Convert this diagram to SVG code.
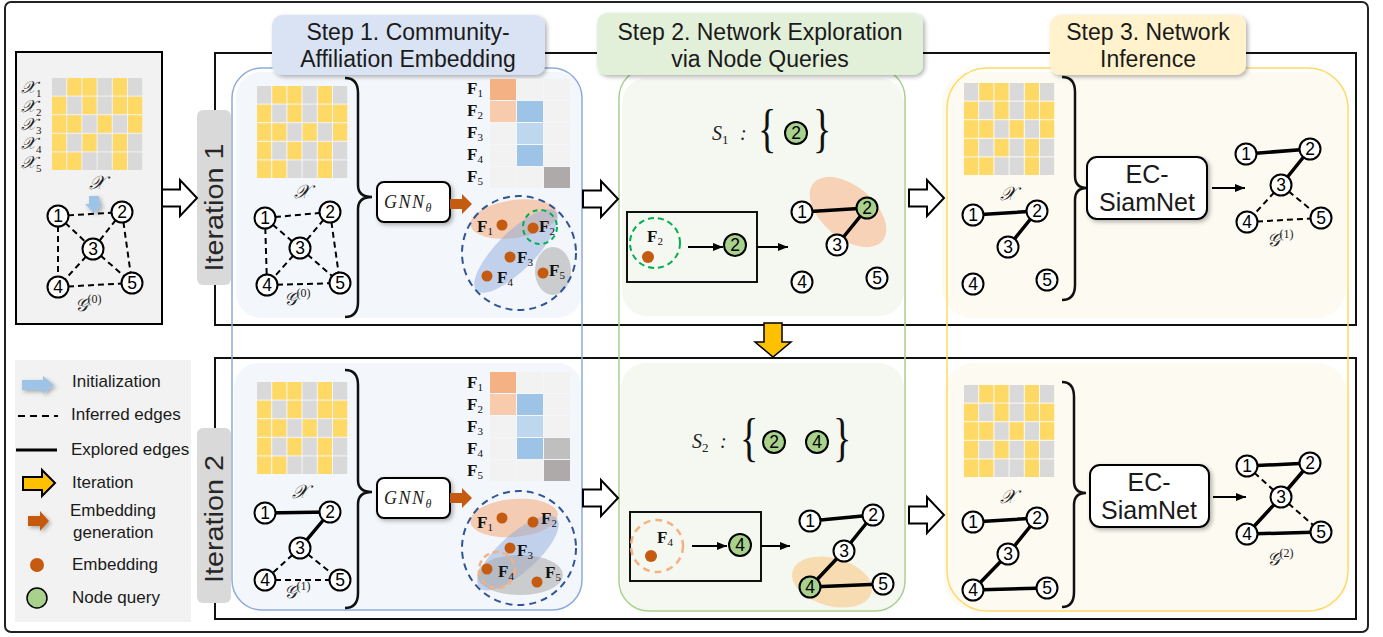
<svg xmlns="http://www.w3.org/2000/svg" xmlns:xlink="http://www.w3.org/1999/xlink" width="1383" height="637" viewBox="0 0 1383 637">
<style>
.n circle{fill:#fff;stroke:#000;stroke-width:2}
.q circle{fill:#a9d18e}
.n text{font-family:"Liberation Sans",Arial,sans-serif;font-size:17.5px;text-anchor:middle;fill:#000}
.s{stroke:#000;stroke-width:3.5;fill:none}
.d{stroke:#000;stroke-width:2;stroke-dasharray:6 4;fill:none}
.hd{font-family:"Liberation Sans",Arial,sans-serif;font-size:23px;text-anchor:middle;fill:#1a1a1a}
.ec{font-family:"Liberation Sans",Arial,sans-serif;font-size:25px;text-anchor:middle;fill:#1a1a1a}
.lg{font-family:"Liberation Sans",Arial,sans-serif;font-size:17px;fill:#1a1a1a}
.it{font-family:"Liberation Sans",Arial,sans-serif;font-size:25px;text-anchor:middle;fill:#262626}
.m{font-family:"Liberation Serif","DejaVu Serif",serif;font-style:italic;fill:#222}
.fb{font-family:"Liberation Serif","DejaVu Serif",serif;font-weight:bold;font-size:17px;fill:#111}
.sub{font-size:11px;font-weight:normal}
.bc{font-family:"Liberation Serif","DejaVu Serif",serif;font-size:53px;fill:#111}
.y{fill:#ffd966}.g{fill:#d9d9d9}
.c0{fill:#f2f2f2}
.ha{fill:#fff;stroke:#000;stroke-width:2;stroke-linejoin:miter}
.br{fill:none;stroke:#111;stroke-width:2.5}
.box{fill:#fff;stroke:#000;stroke-width:2}
.dot{fill:#c55a11}
.arr{stroke:#000;stroke-width:2;fill:none;marker-end:url(#ah)}
</style>
<defs>
<filter id="sh" x="-10%" y="-10%" width="130%" height="140%"><feDropShadow dx="2" dy="2" stdDeviation="2" flood-color="#000" flood-opacity="0.3"/></filter>
<marker id="ah" markerWidth="10" markerHeight="8" refX="10" refY="4" orient="auto" markerUnits="userSpaceOnUse"><path d="M0,0 L10,4 L0,8 z" fill="#000"/></marker>
<g id="mx">
<rect class="g" x="0" y="0" width="14.2" height="17.6"/><rect class="y" x="15.2" y="0" width="14.2" height="17.6"/><rect class="y" x="30.4" y="0" width="14.2" height="17.6"/><rect class="g" x="45.6" y="0" width="14.2" height="17.6"/><rect class="y" x="60.8" y="0" width="14.2" height="17.6"/><rect class="g" x="76" y="0" width="14.2" height="17.6"/>
<rect class="y" x="0" y="18.6" width="14.2" height="17.6"/><rect class="g" x="15.2" y="18.6" width="14.2" height="17.6"/><rect class="y" x="30.4" y="18.6" width="14.2" height="17.6"/><rect class="g" x="45.6" y="18.6" width="14.2" height="17.6"/><rect class="y" x="60.8" y="18.6" width="14.2" height="17.6"/><rect class="y" x="76" y="18.6" width="14.2" height="17.6"/>
<rect class="y" x="0" y="37.2" width="14.2" height="17.6"/><rect class="y" x="15.2" y="37.2" width="14.2" height="17.6"/><rect class="g" x="30.4" y="37.2" width="14.2" height="17.6"/><rect class="y" x="45.6" y="37.2" width="14.2" height="17.6"/><rect class="g" x="60.8" y="37.2" width="14.2" height="17.6"/><rect class="y" x="76" y="37.2" width="14.2" height="17.6"/>
<rect class="y" x="0" y="55.8" width="14.2" height="17.6"/><rect class="g" x="15.2" y="55.8" width="14.2" height="17.6"/><rect class="y" x="30.4" y="55.8" width="14.2" height="17.6"/><rect class="g" x="45.6" y="55.8" width="14.2" height="17.6"/><rect class="y" x="60.8" y="55.8" width="14.2" height="17.6"/><rect class="g" x="76" y="55.8" width="14.2" height="17.6"/>
<rect class="y" x="0" y="74.4" width="14.2" height="17.6"/><rect class="y" x="15.2" y="74.4" width="14.2" height="17.6"/><rect class="g" x="30.4" y="74.4" width="14.2" height="17.6"/><rect class="g" x="45.6" y="74.4" width="14.2" height="17.6"/><rect class="y" x="60.8" y="74.4" width="14.2" height="17.6"/><rect class="g" x="76" y="74.4" width="14.2" height="17.6"/>
</g>
</defs>

<rect x="0" y="0" width="1383" height="637" fill="#fff"/>
<rect id="outer-frame" x="5" y="2" width="1363" height="630" rx="6" fill="none" stroke="#222" stroke-width="2"/>

<!-- left initial panel -->
<g id="init-panel">
<rect x="16" y="52" width="146" height="272" fill="#f2f2f2" stroke="#000" stroke-width="2"/>
<use href="#mx" x="52" y="78"/>
<text class="m" font-size="17" x="21" y="93">𝒳<tspan font-size="11" dy="4" font-style="normal">1</tspan></text>
<text class="m" font-size="17" x="21" y="112">𝒳<tspan font-size="11" dy="4" font-style="normal">2</tspan></text>
<text class="m" font-size="17" x="21" y="130">𝒳<tspan font-size="11" dy="4" font-style="normal">3</tspan></text>
<text class="m" font-size="17" x="21" y="149">𝒳<tspan font-size="11" dy="4" font-style="normal">4</tspan></text>
<text class="m" font-size="17" x="21" y="168">𝒳<tspan font-size="11" dy="4" font-style="normal">5</tspan></text>
<text class="m" font-size="19" x="97" y="189" text-anchor="middle">𝒳</text>
<polygon points="89,196 99,196 99,204 103,204 94,213 85,204 89,204" fill="#9dc3e6" filter="url(#sh)"/>
<text class="m" font-size="18" x="88" y="311" text-anchor="middle">𝒢<tspan font-size="12" dy="-8" font-style="normal">(0)</tspan></text>
</g>

<!-- legend -->
<g id="legend">
<rect x="15" y="360" width="176" height="262" fill="#f2f2f2"/>
<polygon points="22,380 43,380 43,376 54,385 43,394 43,390 22,390" fill="#9dc3e6" filter="url(#sh)"/>
<text class="lg" x="72" y="387">Initialization</text>
<line x1="18" y1="416" x2="58" y2="416" stroke="#000" stroke-width="2" stroke-dasharray="7 5"/>
<text class="lg" x="71" y="420">Inferred edges</text>
<line x1="16" y1="450" x2="57" y2="450" stroke="#000" stroke-width="3"/>
<text class="lg" x="71" y="455">Explored edges</text>
<polygon points="23,477 42,477 42,470 55,483 42,496 42,490 23,490" fill="#ffc000" stroke="#000" stroke-width="2"/>
<text class="lg" x="72" y="488">Iteration</text>
<polygon points="28,516 40,516 40,511 49,521 40,531 40,526 28,526" fill="#c55a11" filter="url(#sh)"/>
<text class="lg" x="70" y="516">Embedding</text>
<text class="lg" x="73" y="538">generation</text>
<circle cx="37" cy="565" r="7" class="dot"/>
<text class="lg" x="72" y="570">Embedding</text>
<circle cx="37" cy="598" r="10" fill="#a9d18e" stroke="#000" stroke-width="1.5"/>
<text class="lg" x="72" y="603">Node query</text>
</g>

<!-- iteration frames -->
<g id="iter1-frame"><rect x="215" y="53" width="1141" height="272" fill="none" stroke="#111" stroke-width="2"/></g>
<g id="iter2-frame"><rect x="215" y="358" width="1141" height="261" fill="none" stroke="#111" stroke-width="2"/></g>

<!-- column panels -->
<g id="step1-panel">
<rect x="236" y="72" width="346" height="246" rx="25" fill="#f3f6fb"/>
<rect x="234" y="363" width="348" height="246" rx="25" fill="#f3f6fb"/>
<rect x="232" y="68" width="350" height="542" rx="30" fill="none" stroke="#8faadc" stroke-width="1.5"/>
</g>
<g id="step2-panel">
<rect x="622" y="78" width="282" height="238" rx="25" fill="#f5f8f1"/>
<rect x="621" y="363" width="283" height="247" rx="25" fill="#f5f8f1"/>
<rect x="619" y="68" width="286" height="543" rx="30" fill="none" stroke="#a9d18e" stroke-width="1.5"/>
</g>
<g id="step3-panel">
<rect x="942" y="72" width="404" height="246" rx="30" fill="#fdfaf1"/>
<rect x="944" y="363" width="403" height="247" rx="30" fill="#fdfaf1"/>
<rect x="947" y="68" width="401" height="543" rx="40" fill="none" stroke="#ffd966" stroke-width="1.5"/>
</g>

<!-- headers -->
<g id="step1-header">
<rect x="272" y="15" width="273" height="60" rx="10" fill="#dae3f3" filter="url(#sh)"/>
<text class="hd" x="408" y="40">Step 1. Community-</text>
<text class="hd" x="408" y="67">Affiliation Embedding</text>
</g>
<g id="step2-header">
<rect x="597" y="13" width="326" height="62" rx="10" fill="#e2f0d9" filter="url(#sh)"/>
<text class="hd" x="760" y="40">Step 2. Network Exploration</text>
<text class="hd" x="760" y="67">via Node Queries</text>
</g>
<g id="step3-header">
<rect x="1050" y="15" width="196" height="60" rx="10" fill="#fff2cc" filter="url(#sh)"/>
<text class="hd" x="1148" y="40">Step 3. Network</text>
<text class="hd" x="1148" y="67">Inference</text>
</g>

<!-- iteration labels -->
<g id="iter1-label">
<rect x="197" y="110" width="34" height="175" rx="6" fill="#d9d9d9"/>
<text class="it" transform="translate(223,207.5) rotate(-90)" textLength="128" lengthAdjust="spacingAndGlyphs">Iteration 1</text>
</g>
<g id="iter2-label">
<rect x="197" y="428" width="34" height="175" rx="6" fill="#d9d9d9"/>
<text class="it" transform="translate(223,519) rotate(-90)" textLength="128" lengthAdjust="spacingAndGlyphs">Iteration 2</text>
</g>

<!-- Step 1 iteration 1 -->
<g id="s1i1-input">
<use href="#mx" x="257" y="86"/>
<text class="m" font-size="19" x="302" y="198" text-anchor="middle">𝒳</text>
<text class="m" font-size="18" x="297" y="305" text-anchor="middle">𝒢<tspan font-size="12" dy="-8" font-style="normal">(0)</tspan></text>
<path class="br" d="M345,78 Q358,78 358,93 L358,185 Q358,197 372,197 Q358,197 358,209 L358,302 Q358,317 345,317"/>
</g>
<g id="s1i1-gnn">
<rect class="box" x="377" y="182" width="73" height="40" rx="7" filter="url(#sh)"/>
<text class="m" font-size="18" x="384" y="208" letter-spacing="1.5">GNN<tspan font-size="12" dy="4">θ</tspan></text>
<polygon points="450,199 462,199 462,194 472,204 462,214 462,209 450,209" fill="#c55a11"/>
</g>
<g id="s1i1-F">
<rect x="490" y="79" width="26" height="21" fill="#f4b183"/><rect x="517" y="79" width="26" height="21" class="c0"/><rect x="544" y="79" width="26" height="21" class="c0"/>
<rect x="490" y="101" width="26" height="21" fill="#f8cbad"/><rect x="517" y="101" width="26" height="21" fill="#9dc3e6"/><rect x="544" y="101" width="26" height="21" class="c0"/>
<rect x="490" y="123" width="26" height="21" class="c0"/><rect x="517" y="123" width="26" height="21" fill="#bdd7ee"/><rect x="544" y="123" width="26" height="21" class="c0"/>
<rect x="490" y="145" width="26" height="21" class="c0"/><rect x="517" y="145" width="26" height="21" fill="#9dc3e6"/><rect x="544" y="145" width="26" height="21" class="c0"/>
<rect x="490" y="167" width="26" height="21" class="c0"/><rect x="517" y="167" width="26" height="21" class="c0"/><rect x="544" y="167" width="26" height="21" fill="#aeaaaa"/>
<text class="fb" x="467" y="94">F<tspan class="sub" dy="3">1</tspan></text>
<text class="fb" x="467" y="116">F<tspan class="sub" dy="3">2</tspan></text>
<text class="fb" x="467" y="138">F<tspan class="sub" dy="3">3</tspan></text>
<text class="fb" x="467" y="160">F<tspan class="sub" dy="3">4</tspan></text>
<text class="fb" x="467" y="182">F<tspan class="sub" dy="3">5</tspan></text>
</g>
<g id="s1i1-emb">
<ellipse cx="514" cy="219" rx="44" ry="19" transform="rotate(-8 514 219)" fill="#f4b183" opacity="0.6"/>
<ellipse cx="516" cy="251" rx="56" ry="19" transform="rotate(-45 516 251)" fill="#8faadc" opacity="0.5"/>
<ellipse cx="553" cy="271" rx="18" ry="24" fill="#aaaaaa" opacity="0.55"/>
<circle cx="519" cy="253" r="57" fill="none" stroke="#2f5597" stroke-width="2" stroke-dasharray="7 5"/>
<circle cx="540" cy="227" r="17" fill="none" stroke="#00b050" stroke-width="2" stroke-dasharray="5 4"/>
<circle class="dot" cx="502" cy="225" r="5.5"/><circle class="dot" cx="533" cy="228" r="5.5"/><circle class="dot" cx="510" cy="257" r="5.5"/><circle class="dot" cx="487" cy="276" r="5.5"/><circle class="dot" cx="543" cy="273" r="5.5"/>
<text class="fb" x="477" y="232">F<tspan class="sub" dy="3">1</tspan></text>
<text class="fb" x="539" y="232">F<tspan class="sub" dy="3">2</tspan></text>
<text class="fb" x="517" y="263">F<tspan class="sub" dy="3">3</tspan></text>
<text class="fb" x="497" y="283">F<tspan class="sub" dy="3">4</tspan></text>
<text class="fb" x="549" y="276">F<tspan class="sub" dy="3">5</tspan></text>
</g>

<!-- Step 1 iteration 2 -->
<g id="s1i2-input">
<use href="#mx" x="257" y="382"/>
<text class="m" font-size="19" x="300" y="498" text-anchor="middle">𝒳</text>
<text class="m" font-size="18" x="297" y="598" text-anchor="middle">𝒢<tspan font-size="12" dy="-8" font-style="normal">(1)</tspan></text>
<path class="br" d="M345,370 Q358,370 358,385 L358,480 Q358,492 372,492 Q358,492 358,504 L358,593 Q358,608 345,608"/>
</g>
<g id="s1i2-gnn">
<rect class="box" x="377" y="478" width="73" height="40" rx="7" filter="url(#sh)"/>
<text class="m" font-size="18" x="384" y="504" letter-spacing="1.5">GNN<tspan font-size="12" dy="4">θ</tspan></text>
<polygon points="450,493 462,493 462,488 472,498 462,508 462,503 450,503" fill="#c55a11"/>
</g>
<g id="s1i2-F">
<rect x="490" y="372" width="26" height="21" fill="#f4b183"/><rect x="517" y="372" width="26" height="21" class="c0"/><rect x="544" y="372" width="26" height="21" class="c0"/>
<rect x="490" y="394" width="26" height="21" fill="#f8cbad"/><rect x="517" y="394" width="26" height="21" fill="#9dc3e6"/><rect x="544" y="394" width="26" height="21" class="c0"/>
<rect x="490" y="416" width="26" height="21" class="c0"/><rect x="517" y="416" width="26" height="21" fill="#bdd7ee"/><rect x="544" y="416" width="26" height="21" class="c0"/>
<rect x="490" y="438" width="26" height="21" class="c0"/><rect x="517" y="438" width="26" height="21" fill="#9dc3e6"/><rect x="544" y="438" width="26" height="21" fill="#bfbfbf"/>
<rect x="490" y="460" width="26" height="21" class="c0"/><rect x="517" y="460" width="26" height="21" class="c0"/><rect x="544" y="460" width="26" height="21" fill="#aeaaaa"/>
<text class="fb" x="467" y="388">F<tspan class="sub" dy="3">1</tspan></text>
<text class="fb" x="467" y="410">F<tspan class="sub" dy="3">2</tspan></text>
<text class="fb" x="467" y="432">F<tspan class="sub" dy="3">3</tspan></text>
<text class="fb" x="467" y="454">F<tspan class="sub" dy="3">4</tspan></text>
<text class="fb" x="467" y="476">F<tspan class="sub" dy="3">5</tspan></text>
</g>
<g id="s1i2-emb">
<ellipse cx="514" cy="518" rx="44" ry="19" transform="rotate(-5 514 518)" fill="#f4b183" opacity="0.6"/>
<ellipse cx="518" cy="553" rx="52" ry="19" transform="rotate(-42 518 553)" fill="#8faadc" opacity="0.5"/>
<ellipse cx="520" cy="575" rx="43" ry="20" fill="#aaaaaa" opacity="0.55"/>
<circle cx="519" cy="548" r="57" fill="none" stroke="#2f5597" stroke-width="2" stroke-dasharray="7 5"/>
<circle cx="497" cy="570" r="18" fill="none" stroke="#f4b183" stroke-width="2.5" stroke-dasharray="6 4"/>
<circle class="dot" cx="502" cy="518" r="5.5"/><circle class="dot" cx="533" cy="522" r="5.5"/><circle class="dot" cx="510" cy="548" r="5.5"/><circle class="dot" cx="487" cy="569" r="5.5"/><circle class="dot" cx="537" cy="582" r="5.5"/>
<text class="fb" x="477" y="528">F<tspan class="sub" dy="3">1</tspan></text>
<text class="fb" x="541" y="524">F<tspan class="sub" dy="3">2</tspan></text>
<text class="fb" x="517" y="556">F<tspan class="sub" dy="3">3</tspan></text>
<text class="fb" x="498" y="577">F<tspan class="sub" dy="3">4</tspan></text>
<text class="fb" x="545" y="578">F<tspan class="sub" dy="3">5</tspan></text>
</g>

<!-- Step 2 iteration 1 -->
<g id="s2i1-set">
<text class="m" font-size="20" x="712" y="140">S<tspan font-size="13" dy="4" font-style="normal">1</tspan></text>
<text class="m" font-size="20" x="740" y="140" font-style="normal">:</text>
<text class="bc" transform="translate(758,146) scale(0.72,1)">{</text>
<text class="bc" transform="translate(813,146) scale(0.72,1)">}</text>
</g>
<g id="s2i1-query">
<rect x="627" y="212" width="130" height="70" fill="none" stroke="#111" stroke-width="2"/>
<circle cx="655" cy="243" r="25" fill="none" stroke="#00b050" stroke-width="2" stroke-dasharray="6 4"/>
<text class="fb" x="647" y="242" font-size="18">F<tspan class="sub" dy="3">2</tspan></text>
<circle class="dot" cx="648" cy="257" r="6"/>
</g>
<ellipse id="s2i1-comm" cx="848" cy="212" rx="45" ry="26" transform="rotate(40 848 212)" fill="#f8cbad" opacity="0.85"/>

<!-- Step 2 iteration 2 -->
<g id="s2i2-set">
<text class="m" font-size="20" x="692" y="448">S<tspan font-size="13" dy="4" font-style="normal">2</tspan></text>
<text class="m" font-size="20" x="720" y="448" font-style="normal">:</text>
<text class="bc" transform="translate(740,455) scale(0.72,1)">{</text>
<text class="bc" transform="translate(833,455) scale(0.72,1)">}</text>
</g>
<g id="s2i2-query">
<rect x="630" y="512" width="131" height="69" fill="none" stroke="#111" stroke-width="2"/>
<circle cx="657" cy="546" r="26" fill="none" stroke="#f4b183" stroke-width="2.5" stroke-dasharray="7 5"/>
<text class="fb" x="657" y="543" font-size="18">F<tspan class="sub" dy="3">4</tspan></text>
<circle class="dot" cx="651" cy="556" r="6"/>
</g>
<ellipse id="s2i2-comm" cx="832" cy="582" rx="41" ry="24" transform="rotate(15 832 582)" fill="#f8cf96" opacity="0.7"/>

<!-- Step 3 -->
<g id="s3i1-input">
<use href="#mx" x="964" y="83"/>
<text class="m" font-size="19" x="1008" y="200" text-anchor="middle">𝒳</text>
<path class="br" d="M1062,77 Q1075,77 1075,92 L1075,176 Q1075,188 1087,188 Q1075,188 1075,200 L1075,285 Q1075,300 1062,300"/>
</g>
<g id="s3i1-ec">
<rect class="box" x="1087" y="157" width="120" height="62" rx="10" filter="url(#sh)"/>
<text class="ec" x="1147" y="183">EC-</text>
<text class="ec" x="1147" y="211">SiamNet</text>
</g>
<text id="s3i1-glabel" class="m" font-size="18" x="1280" y="246" text-anchor="middle">𝒢<tspan font-size="12" dy="-8" font-style="normal">(1)</tspan></text>
<g id="s3i2-input">
<use href="#mx" x="964" y="385"/>
<text class="m" font-size="19" x="1008" y="503" text-anchor="middle">𝒳</text>
<path class="br" d="M1062,382 Q1074,382 1074,397 L1074,481 Q1074,493 1086,493 Q1074,493 1074,505 L1074,592 Q1074,607 1062,607"/>
</g>
<g id="s3i2-ec">
<rect class="box" x="1090" y="465" width="119" height="62" rx="10" filter="url(#sh)"/>
<text class="ec" x="1149" y="491">EC-</text>
<text class="ec" x="1149" y="519">SiamNet</text>
</g>
<text id="s3i2-glabel" class="m" font-size="18" x="1280" y="565" text-anchor="middle">𝒢<tspan font-size="12" dy="-8" font-style="normal">(2)</tspan></text>

<!-- connectors -->
<g id="connectors">
<g id="hollow-arrows">
<polygon class="ha" points="162,189.5 180,189.5 180,180 197,198 180,216 180,206.5 162,206.5"/>
<polygon class="ha" points="583,190.5 601,190.5 601,181 618,199 601,217 601,207.5 583,207.5"/>
<polygon class="ha" points="909,189.5 927,189.5 927,180 944,198 927,216 927,206.5 909,206.5"/>
<polygon class="ha" points="583,489.5 601,489.5 601,480 618,498 601,516 601,506.5 583,506.5"/>
<polygon class="ha" points="909,506.5 927,506.5 927,497 944,515 927,533 927,523.5 909,523.5"/>
</g>
<polygon id="iter-arrow" points="764,323 782,323 782,342 791,342 773,357 755,342 764,342" fill="#ffc000" stroke="#000" stroke-width="1.5"/>
<line class="arr" x1="688" y1="247" x2="723" y2="247"/>
<line class="arr" x1="757" y1="247" x2="788" y2="247"/>
<line class="arr" x1="692" y1="546" x2="727" y2="546"/>
<line class="arr" x1="761" y1="546" x2="790" y2="546"/>
<line class="arr" x1="1212" y1="188" x2="1245" y2="188"/>
<line class="arr" x1="1213" y1="497" x2="1246" y2="497"/>
<path class="d" d="M58,216L122,212M58,216L93,249M58,216L58,287M122,212L93,249M122,212L132,283M93,249L58,287M93,249L132,283M58,287L132,283"/>
<path class="d" d="M265,218L330,212M265,218L300,248M265,218L267,285M330,212L300,248M330,212L340,283M300,248L267,285M300,248L340,283M267,285L340,283"/>
<path class="s" d="M265,513L330,512M330,512L300,548"/>
<path class="d" d="M300,548L265,580M300,548L340,580M265,580L340,580"/>
<path class="s" d="M802,212L867,208M867,208L837,245"/>
<path class="s" d="M810,521L873,515M873,515L844,551M844,551L810,587M810,587L883,584"/>
<path class="s" d="M973,215L1037,211M1037,211L1008,247"/>
<path class="s" d="M1246,154L1310,149M1310,149L1281,185"/>
<path class="d" d="M1281,185L1247,222M1281,185L1321,218M1247,222L1321,218"/>
<path class="s" d="M973,522L1037,518M1037,518L1008,554M1008,554L973,590M973,590L1047,588"/>
<path class="s" d="M1247,466L1310,463M1310,463L1281,497M1281,497L1247,534M1247,534L1321,532"/>
<path class="d" d="M1247,466L1281,497M1281,497L1321,532"/>
</g>

<!-- nodes -->
<g id="graph-A">
<g id="a1" class="n"><circle cx="58" cy="216" r="10.5"/><text x="58" y="222">1</text></g>
<g id="a2" class="n"><circle cx="122" cy="212" r="10.5"/><text x="122" y="218">2</text></g>
<g id="a3" class="n"><circle cx="93" cy="249" r="10.5"/><text x="93" y="255">3</text></g>
<g id="a4" class="n"><circle cx="58" cy="287" r="10.5"/><text x="58" y="293">4</text></g>
<g id="a5" class="n"><circle cx="132" cy="283" r="10.5"/><text x="132" y="289">5</text></g>
</g>
<g id="graph-B">
<g id="b1" class="n"><circle cx="265" cy="218" r="10.5"/><text x="265" y="224">1</text></g>
<g id="b2" class="n"><circle cx="330" cy="212" r="10.5"/><text x="330" y="218">2</text></g>
<g id="b3" class="n"><circle cx="300" cy="248" r="10.5"/><text x="300" y="254">3</text></g>
<g id="b4" class="n"><circle cx="267" cy="285" r="10.5"/><text x="267" y="291">4</text></g>
<g id="b5" class="n"><circle cx="340" cy="283" r="10.5"/><text x="340" y="289">5</text></g>
</g>
<g id="graph-C">
<g id="c1" class="n"><circle cx="265" cy="513" r="10.5"/><text x="265" y="519">1</text></g>
<g id="c2" class="n"><circle cx="330" cy="512" r="10.5"/><text x="330" y="518">2</text></g>
<g id="c3" class="n"><circle cx="300" cy="548" r="10.5"/><text x="300" y="554">3</text></g>
<g id="c4" class="n"><circle cx="265" cy="580" r="10.5"/><text x="265" y="586">4</text></g>
<g id="c5" class="n"><circle cx="340" cy="580" r="10.5"/><text x="340" y="586">5</text></g>
</g>
<g id="graph-D">
<g id="d1" class="n"><circle cx="802" cy="212" r="10.5"/><text x="802" y="218">1</text></g>
<g id="d2" class="n q"><circle cx="867" cy="208" r="10.5"/><text x="867" y="214">2</text></g>
<g id="d3" class="n"><circle cx="837" cy="245" r="10.5"/><text x="837" y="251">3</text></g>
<g id="d4" class="n"><circle cx="802" cy="282" r="10.5"/><text x="802" y="288">4</text></g>
<g id="d5" class="n"><circle cx="877" cy="278" r="10.5"/><text x="877" y="284">5</text></g>
</g>
<g id="graph-E">
<g id="e1" class="n"><circle cx="810" cy="521" r="10.5"/><text x="810" y="527">1</text></g>
<g id="e2" class="n"><circle cx="873" cy="515" r="10.5"/><text x="873" y="521">2</text></g>
<g id="e3" class="n"><circle cx="844" cy="551" r="10.5"/><text x="844" y="557">3</text></g>
<g id="e4" class="n q"><circle cx="810" cy="587" r="10.5"/><text x="810" y="593">4</text></g>
<g id="e5" class="n"><circle cx="883" cy="584" r="10.5"/><text x="883" y="590">5</text></g>
</g>
<g id="queries">
<g id="s1q2" class="n q"><circle cx="796" cy="133" r="11"/><text x="796" y="139">2</text></g>
<g id="s2q2" class="n q"><circle cx="774" cy="442" r="11"/><text x="774" y="448">2</text></g>
<g id="s2q4" class="n q"><circle cx="817" cy="442" r="11"/><text x="817" y="448">4</text></g>
<g id="box1q2" class="n q"><circle cx="735" cy="245" r="11"/><text x="735" y="251">2</text></g>
<g id="box2q4" class="n q"><circle cx="740" cy="545" r="11"/><text x="740" y="551">4</text></g>
</g>
<g id="graph-F">
<g id="f1" class="n"><circle cx="973" cy="215" r="10.5"/><text x="973" y="221">1</text></g>
<g id="f2" class="n"><circle cx="1037" cy="211" r="10.5"/><text x="1037" y="217">2</text></g>
<g id="f3" class="n"><circle cx="1008" cy="247" r="10.5"/><text x="1008" y="253">3</text></g>
<g id="f4" class="n"><circle cx="973" cy="284" r="10.5"/><text x="973" y="290">4</text></g>
<g id="f5" class="n"><circle cx="1047" cy="280" r="10.5"/><text x="1047" y="286">5</text></g>
</g>
<g id="graph-G">
<g id="g1" class="n"><circle cx="1246" cy="154" r="10.5"/><text x="1246" y="160">1</text></g>
<g id="g2" class="n"><circle cx="1310" cy="149" r="10.5"/><text x="1310" y="155">2</text></g>
<g id="g3" class="n"><circle cx="1281" cy="185" r="10.5"/><text x="1281" y="191">3</text></g>
<g id="g4" class="n"><circle cx="1247" cy="222" r="10.5"/><text x="1247" y="228">4</text></g>
<g id="g5" class="n"><circle cx="1321" cy="218" r="10.5"/><text x="1321" y="224">5</text></g>
</g>
<g id="graph-H">
<g id="h1" class="n"><circle cx="973" cy="522" r="10.5"/><text x="973" y="528">1</text></g>
<g id="h2" class="n"><circle cx="1037" cy="518" r="10.5"/><text x="1037" y="524">2</text></g>
<g id="h3" class="n"><circle cx="1008" cy="554" r="10.5"/><text x="1008" y="560">3</text></g>
<g id="h4" class="n"><circle cx="973" cy="590" r="10.5"/><text x="973" y="596">4</text></g>
<g id="h5" class="n"><circle cx="1047" cy="588" r="10.5"/><text x="1047" y="594">5</text></g>
</g>
<g id="graph-I">
<g id="i1" class="n"><circle cx="1247" cy="466" r="10.5"/><text x="1247" y="472">1</text></g>
<g id="i2" class="n"><circle cx="1310" cy="463" r="10.5"/><text x="1310" y="469">2</text></g>
<g id="i3" class="n"><circle cx="1281" cy="497" r="10.5"/><text x="1281" y="503">3</text></g>
<g id="i4" class="n"><circle cx="1247" cy="534" r="10.5"/><text x="1247" y="540">4</text></g>
<g id="i5" class="n"><circle cx="1321" cy="532" r="10.5"/><text x="1321" y="538">5</text></g>
</g>
</svg>
